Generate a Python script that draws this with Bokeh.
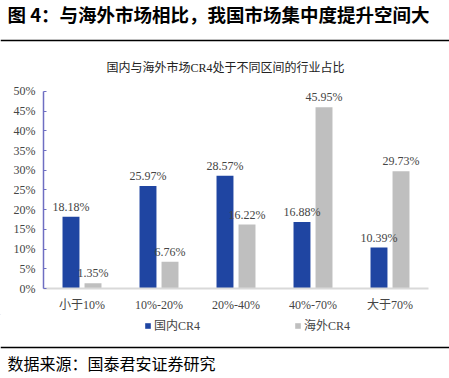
from bokeh.plotting import figure
from bokeh.models import (ColumnDataSource, FactorRange, Range1d, FixedTicker,
                          PrintfTickFormatter, Legend, LegendItem, Label, Span)
from bokeh.transform import dodge
from bokeh.core.properties import value
from bokeh.embed import file_html
from bokeh.resources import INLINE

categories = ["小于10%", "10%-20%", "20%-40%", "40%-70%", "大于70%"]
domestic = [18.18, 25.97, 28.57, 16.88, 10.39]
overseas = [1.35, 6.76, 16.22, 45.95, 29.73]
y_ticks = [0, 5, 10, 15, 20, 25, 30, 35, 40, 45, 50]

series_names = ["国内CR4", "海外CR4"]
title_text = "图 4：与海外市场相比，我国市场集中度提升空间大"
chart_title = "国内与海外市场CR4处于不同区间的行业占比"
footer_text = "数据来源：国泰君安证券研究"

BLUE = "#1F45A2"
GRAY = "#BFBFBF"
TXT = "#454545"
SERIF = "Liberation Serif, Noto Sans CJK SC"
SANS = "Noto Sans CJK SC"
W = 449


def blank(h):
    f = figure(width=W, height=h, output_backend="svg", toolbar_location=None,
               x_range=Range1d(0, W), y_range=Range1d(h, 0),
               x_axis_type=None, y_axis_type=None, min_border=0, title=None)
    f.outline_line_color = None
    f.xgrid.visible = False
    f.ygrid.visible = False
    return f


# ---- top strip: title, rule, chart title ----
top = blank(80)
top.add_layout(Label(x=7, y=13.5, text=title_text, text_font=SANS, text_font_size="18.5px",
                     text_font_style="bold", text_color="black",
                     text_align="left", text_baseline="middle"))
top.add_layout(Span(location=40, dimension="width", line_color="black", line_width=1.6))
top.add_layout(Label(x=225, y=67.5, text=chart_title, text_font=SERIF, text_font_size="12px",
                     text_color="#222222", text_align="center", text_baseline="middle"))

# ---- main chart ----
src = ColumnDataSource(dict(
    cat=categories,
    dom=domestic,
    ovs=overseas,
    dom_lbl=[f"{v:.2f}%" for v in domestic],
    ovs_lbl=[f"{v:.2f}%" for v in overseas],
))

p = figure(width=W, height=234, output_backend="svg", toolbar_location=None,
           x_range=FactorRange(*categories, range_padding=0), y_range=Range1d(0, 52),
           min_border_left=43, min_border_right=21, min_border_top=3, min_border_bottom=26,
           title=None)
p.outline_line_color = None
p.xgrid.grid_line_color = None
p.ygrid.grid_line_color = None

off = 0.143
w = 0.22
p.vbar(x=dodge("cat", -off, range=p.x_range), top="dom", width=w, source=src,
       fill_color=BLUE, line_color=None)
p.vbar(x=dodge("cat", off, range=p.x_range), top="ovs", width=w, source=src,
       fill_color=GRAY, line_color=None)

for col, lbl, o in (("dom", "dom_lbl", -off), ("ovs", "ovs_lbl", off)):
    p.text(x=dodge("cat", o, range=p.x_range), y=col, text=lbl, source=src,
           text_align="center", text_baseline="bottom", y_offset=-3,
           text_font=value(SERIF), text_font_size="12px", text_color=TXT)

ya = p.yaxis[0]
ya.ticker = FixedTicker(ticks=y_ticks)
ya.formatter = PrintfTickFormatter(format="%d%%")
ya.bounds = (0, 50)
ya.axis_line_color = "#6E6EC2"
ya.axis_line_width = 1.5
ya.major_tick_line_color = "#6E6EC2"
ya.major_tick_in = 3
ya.major_tick_out = 0
ya.minor_tick_line_color = None
ya.major_label_text_font = SERIF
ya.major_label_text_font_size = "12px"
ya.major_label_text_color = TXT
ya.major_label_standoff = 8

xa = p.xaxis[0]
xa.axis_line_color = "#D9D9D9"
xa.axis_line_width = 2
xa.major_tick_line_color = None
xa.minor_tick_line_color = None
xa.major_label_text_font = SERIF
xa.major_label_text_font_size = "12px"
xa.major_label_text_color = TXT
xa.major_label_standoff = 3

# ---- bottom strip: legend, rule, source ----
bot = blank(64)
# legend swatches (placed outside the visible strip; only their legend glyphs show)
k1 = bot.vbar(x=[-20], top=[-20], bottom=[-20], width=1, fill_color=BLUE, line_color=None)
k2 = bot.vbar(x=[-20], top=[-20], bottom=[-20], width=1, fill_color=GRAY, line_color=None)
legend = Legend(items=[LegendItem(label=series_names[0], renderers=[k1]),
                       LegendItem(label=series_names[1], renderers=[k2])],
                orientation="horizontal", location=(144, 44),
                glyph_width=7, glyph_height=7, label_standoff=3, spacing=94,
                padding=0, margin=0, border_line_color=None, background_fill_alpha=0,
                label_text_font=SERIF, label_text_font_size="12px",
                label_text_color=TXT, label_height=7)
bot.add_layout(legend, "center")
bot.add_layout(Span(location=33, dimension="width", line_color="black", line_width=1.6))
bot.add_layout(Label(x=7, y=48, text=footer_text, text_font=SANS, text_font_size="16px",
                     text_color="black", text_align="left", text_baseline="middle"))

open("out.html", "w").write(file_html([top, p, bot], INLINE))
